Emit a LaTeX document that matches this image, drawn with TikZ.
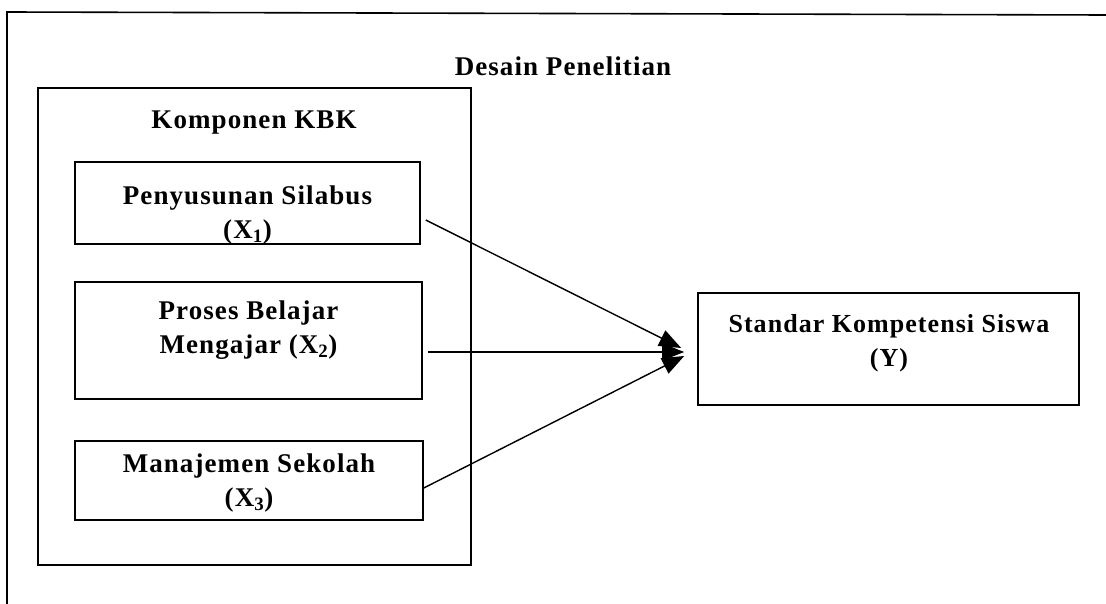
\documentclass[tikz,border=0pt]{standalone}
\usepackage{fontspec}
\setmainfont{Liberation Serif}[LetterSpace=4]
\usetikzlibrary{arrows.meta,calc}
\begin{document}
\begin{tikzpicture}[x=1pt,y=-1pt,
  box/.style={draw,line width=1.6pt,inner sep=0pt},
  lbl/.style={font=\fontsize{27}{34}\selectfont\bfseries,align=center,inner sep=0pt},
  conn/.style={line width=1.4pt,-{Triangle[length=22pt,width=17pt]}}]
\useasboundingbox (0,0) rectangle (1106,604);
% outer frame (top and left only visible)
\coordinate (ftl) at (7,12);
\coordinate (ftr) at (1106,15);
\coordinate (fbl) at (7,604);
\draw[line width=1.6pt] (ftr) -- (ftl) -- (fbl);
\node[lbl] (title) at (563,66) {Desain Penelitian};
% KBK container
\node[box,minimum width=433pt,minimum height=477pt] (kbk) at (254.5,326.5) {};
\node[lbl] (kbkt) at (254,123) {Komponen KBK};
% inner boxes
\node[box,minimum width=345pt,minimum height=82pt] (b1) at (247.5,203) {};
\node[lbl] (t1) at (b1.center) [yshift=-12pt] {Penyusunan Silabus\\(X\textsubscript{1})};
\node[box,minimum width=347pt,minimum height=117pt] (b2) at (248.5,340.5) {};
\node[lbl] (t2) at (b2.center) [yshift=10pt] {Proses Belajar\\Mengajar (X\textsubscript{2})};
\node[box,minimum width=348pt,minimum height=79pt] (b3) at (249,480.5) {};
\node[lbl] (t3) at (b3.center) [yshift=-3pt] {Manajemen Sekolah\\(X\textsubscript{3})};
% target box
\node[box,minimum width=381pt,minimum height=112pt] (yb) at (888.5,349) {};
\node[lbl,font=\fontsize{26}{34}\selectfont\bfseries] (ty) at (889,343) {Standar Kompetensi Siswa\\(Y)};
% connectors
\coordinate (s1) at ($(b1.east)+(5,17)$);
\coordinate (s2) at ($(b2.east)+(5,11.5)$);
\coordinate (s3) at ($(b3.east)+(0,7.5)$);
\coordinate (e1) at ($(yb.west)+(-16,-1)$);
\coordinate (e2) at ($(yb.west)+(-13,3)$);
\coordinate (e3) at ($(yb.west)+(-13,7)$);
\draw[conn] (s1) -- (e1);
\draw[conn] (s2) -- (e2);
\draw[conn] (s3) -- (e3);
\end{tikzpicture}
\end{document}
